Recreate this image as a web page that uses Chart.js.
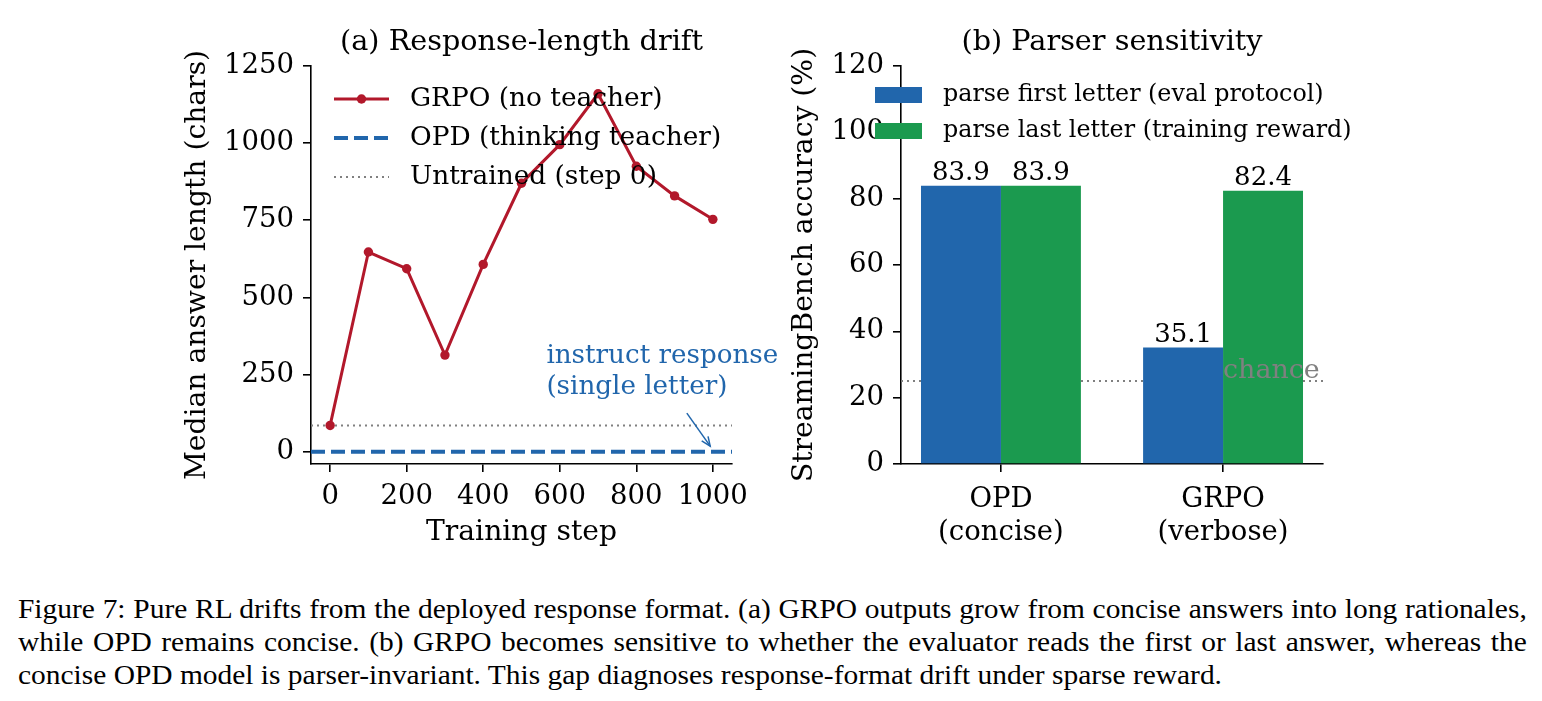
<!DOCTYPE html>
<html>
<head>
<meta charset="utf-8">
<script src="https://cdn.jsdelivr.net/npm/chart.js@4.4.1/dist/chart.umd.min.js"></script>
<style>
  html, body { margin: 0; padding: 0; background: #fff; }
  body { width: 1542px; height: 701px; position: relative; overflow: hidden; }
  #cA { position: absolute; left: 0; top: 0; }
  #cB { position: absolute; left: 784px; top: 0; }
  #caption { position: absolute; left: 18px; top: 593px; width: 1358px;
    transform: scaleX(1.111); transform-origin: 0 0;
    font-family: "Liberation Serif", "Times New Roman", serif; font-size: 26.5px; color: #000; }
  #caption div { height: 33px; line-height: 33px; white-space: nowrap; }
  #caption .j { text-align: justify; text-align-last: justify; }
</style>
</head>
<body>
<canvas id="cA" width="790" height="570"></canvas>
<canvas id="cB" width="758" height="570"></canvas>
<div id="caption">
  <div class="j">Figure 7: Pure RL drifts from the deployed response format. (a) GRPO outputs grow from concise answers into long rationales,</div>
  <div class="j">while OPD remains concise. (b) GRPO becomes sensitive to whether the evaluator reads the first or last answer, whereas the</div>
  <div>concise OPD model is parser-invariant. This gap diagnoses response-format drift under sparse reward.</div>
</div>
<script>
// ---------------- data: panel (a) ----------------
const steps = [0, 100, 200, 300, 400, 500, 600, 700, 800, 900, 1000];
const grpoLength = [85, 647, 593, 313, 607, 870, 995, 1160, 925, 829, 753];
const opdLength = 0;
const untrainedLength = 85;
const stepTicks = [0, 200, 400, 600, 800, 1000];
const lengthTicks = [0, 250, 500, 750, 1000, 1250];
const seriesLabelsA = ['GRPO (no teacher)', 'OPD (thinking teacher)', 'Untrained (step 0)'];
const annotLines = ['instruct response', '(single letter)'];
const annotTextAt = [565, 260];
const annotArrowFrom = [932, 125];
const annotArrowTo = [993, 18];

// ---------------- data: panel (b) ----------------
const barCategories = ['OPD', 'GRPO'];
const barSubLabels = ['(concise)', '(verbose)'];
const firstLetterAcc = [83.9, 35.1];
const lastLetterAcc = [83.9, 82.4];
const seriesLabelsB = ['parse first letter (eval protocol)', 'parse last letter (training reward)'];
const chanceLevel = 25;
const chanceLabelAt = [1.0, 26];
const accTicks = [0, 20, 40, 60, 80, 100, 120];

// ---------------- style ----------------
const FONT = '"DejaVu Serif", serif';
const RED = '#b2182b';
const BLUE = '#2166ac';
const GREEN = '#1b9a4f';
const GRAY = '#808080';
const tickFont = { family: FONT, size: 27.5, lineHeight: 1.2 };
const labelFont = { family: FONT, size: 28.2, lineHeight: 1.2 };
const TITLE_PX = 28.7, LEGA_PX = 26.4, LEGB_PX = 23.8, ANNOT_PX = 26.2, CHANCE_PX = 26.9, VAL_PX = 26;

function axisCommon() {
  return {
    grid: { drawOnChartArea: false, drawTicks: true, tickLength: 8, color: '#000', lineWidth: 1.6, offset: false },
    border: { display: true, color: '#000', width: 1.6 },
    ticks: { font: tickFont, color: '#000', autoSkip: false, maxRotation: 0, minRotation: 0 }
  };
}

function hline(chart, yVal, color, width, dash) {
  const { ctx, chartArea: ca, scales } = chart;
  const y = scales.y.getPixelForValue(yVal);
  ctx.save();
  ctx.strokeStyle = color; ctx.lineWidth = width; ctx.setLineDash(dash);
  ctx.beginPath(); ctx.moveTo(ca.left, y); ctx.lineTo(ca.right, y); ctx.stroke();
  ctx.restore();
}

// ---------------- panel (a) ----------------
const plugA = {
  id: 'plugA',
  beforeDatasetsDraw(chart) {
    hline(chart, untrainedLength, GRAY, 2, [2, 4]);
    hline(chart, opdLength, BLUE, 4, [14, 6]);
  },
  afterDraw(chart) {
    const { ctx, chartArea: ca, scales } = chart;
    ctx.save();
    ctx.fillStyle = '#000';
    ctx.font = TITLE_PX + 'px ' + FONT;
    ctx.textAlign = 'center'; ctx.textBaseline = 'middle';
    ctx.fillText('(a) Response-length drift', (ca.left + ca.right) / 2, ca.top - 23);
    // legend
    const rowsY = [33, 72, 111];
    const x0 = ca.left + 23, x1 = ca.left + 78;
    ctx.font = LEGA_PX + 'px ' + FONT;
    seriesLabelsA.forEach((lab, i) => {
      const y = ca.top + rowsY[i];
      ctx.save();
      ctx.beginPath();
      if (i === 0) { ctx.strokeStyle = RED; ctx.lineWidth = 3; ctx.setLineDash([]); }
      if (i === 1) { ctx.strokeStyle = BLUE; ctx.lineWidth = 4; ctx.setLineDash([14, 6]); }
      if (i === 2) { ctx.strokeStyle = GRAY; ctx.lineWidth = 2; ctx.setLineDash([2, 4]); }
      ctx.moveTo(x0, y); ctx.lineTo(x1, y); ctx.stroke();
      if (i === 0) {
        ctx.fillStyle = RED; ctx.beginPath(); ctx.arc((x0 + x1) / 2, y, 4.7, 0, Math.PI * 2); ctx.fill();
      }
      ctx.restore();
      ctx.fillStyle = '#000';
      ctx.textAlign = 'left'; ctx.textBaseline = 'middle';
      ctx.fillText(lab, ca.left + 99, y);
    });
    // annotation
    const sx = scales.x, sy = scales.y;
    ctx.fillStyle = BLUE;
    ctx.font = ANNOT_PX + 'px ' + FONT;
    ctx.textAlign = 'left'; ctx.textBaseline = 'middle';
    const tx = sx.getPixelForValue(annotTextAt[0]), ty = sy.getPixelForValue(annotTextAt[1]);
    ctx.fillText(annotLines[0], tx, ty - 15.5);
    ctx.fillText(annotLines[1], tx, ty + 15.5);
    const ax0 = sx.getPixelForValue(annotArrowFrom[0]), ay0 = sy.getPixelForValue(annotArrowFrom[1]);
    const ax1 = sx.getPixelForValue(annotArrowTo[0]), ay1 = sy.getPixelForValue(annotArrowTo[1]);
    ctx.strokeStyle = BLUE; ctx.lineWidth = 1.5; ctx.setLineDash([]);
    ctx.beginPath(); ctx.moveTo(ax0, ay0); ctx.lineTo(ax1, ay1); ctx.stroke();
    const ang = Math.atan2(ay1 - ay0, ax1 - ax0), hl = 10, ha = 0.4;
    ctx.beginPath();
    ctx.moveTo(ax1 - hl * Math.cos(ang - ha), ay1 - hl * Math.sin(ang - ha));
    ctx.lineTo(ax1, ay1);
    ctx.lineTo(ax1 - hl * Math.cos(ang + ha), ay1 - hl * Math.sin(ang + ha));
    ctx.stroke();
    ctx.restore();
  }
};

const axA = axisCommon();
const axAy = axisCommon();
new Chart(document.getElementById('cA'), {
  type: 'line',
  data: {
    datasets: [{
      label: seriesLabelsA[0],
      data: steps.map((s, i) => ({ x: s, y: grpoLength[i] })),
      borderColor: RED, backgroundColor: RED, borderWidth: 3,
      pointRadius: 4.7, pointBorderWidth: 0, pointBackgroundColor: RED, tension: 0
    }]
  },
  options: {
    responsive: false, animation: false, devicePixelRatio: 1,
    layout: { padding: { left: 177, top: 66, right: 58, bottom: 16 } },
    plugins: { legend: { display: false }, tooltip: { enabled: false } },
    scales: {
      x: Object.assign(axA, {
        type: 'linear', min: -50, max: 1050,
        afterBuildTicks: s => { s.ticks = stepTicks.map(v => ({ value: v })); },
        afterFit: s => { s.height = 90; },
        ticks: Object.assign(axA.ticks, { padding: 8, callback: v => String(v) }),
        title: { display: true, text: 'Training step', font: labelFont, color: '#000', padding: { top: 4, bottom: 4 } }
      }),
      y: Object.assign(axAy, {
        type: 'linear', min: -40, max: 1250,
        afterBuildTicks: s => { s.ticks = lengthTicks.map(v => ({ value: v })); },
        afterFit: s => { s.width = 134; },
        ticks: Object.assign(axAy.ticks, { padding: 9, callback: v => String(v) }),
        title: { display: true, text: 'Median answer length (chars)', font: labelFont, color: '#000', padding: { top: 4, bottom: 4 } }
      })
    }
  },
  plugins: [plugA]
});

// ---------------- panel (b) ----------------
const plugB = {
  id: 'plugB',
  beforeDatasetsDraw(chart) {
    hline(chart, chanceLevel, GRAY, 2, [2, 4]);
  },
  afterDatasetsDraw(chart) {
    const { ctx, scales } = chart;
    ctx.save();
    ctx.fillStyle = '#000';
    ctx.font = VAL_PX + 'px ' + FONT;
    ctx.textAlign = 'center'; ctx.textBaseline = 'alphabetic';
    chart.data.datasets.forEach((ds, di) => {
      chart.getDatasetMeta(di).data.forEach((bar, j) => {
        ctx.fillText(ds.data[j].y.toFixed(1), bar.x, bar.y - 6);
      });
    });
    ctx.fillStyle = GRAY;
    ctx.font = CHANCE_PX + 'px ' + FONT;
    ctx.textAlign = 'left'; ctx.textBaseline = 'alphabetic';
    ctx.fillText('chance', scales.x.getPixelForValue(chanceLabelAt[0]), scales.y.getPixelForValue(chanceLabelAt[1]));
    ctx.restore();
  },
  afterDraw(chart) {
    const { ctx, chartArea: ca } = chart;
    ctx.save();
    ctx.fillStyle = '#000';
    ctx.font = TITLE_PX + 'px ' + FONT;
    ctx.textAlign = 'center'; ctx.textBaseline = 'middle';
    ctx.fillText('(b) Parser sensitivity', (ca.left + ca.right) / 2, ca.top - 23);
    const rowsY = [29, 65];
    const cols = [BLUE, GREEN];
    ctx.font = LEGB_PX + 'px ' + FONT;
    seriesLabelsB.forEach((lab, i) => {
      const y = ca.top + rowsY[i];
      ctx.fillStyle = cols[i];
      ctx.fillRect(ca.left - 26, y - 8, 47, 16);
      ctx.fillStyle = '#000';
      ctx.textAlign = 'left'; ctx.textBaseline = 'middle';
      ctx.fillText(lab, ca.left + 42, y);
    });
    ctx.restore();
  }
};

const axB = axisCommon();
const axBy = axisCommon();
new Chart(document.getElementById('cB'), {
  type: 'bar',
  data: {
    datasets: [
      { label: seriesLabelsB[0], data: firstLetterAcc.map((v, i) => ({ x: i, y: v })), backgroundColor: BLUE,
        categoryPercentage: 0.72, barPercentage: 1.0, borderWidth: 0 },
      { label: seriesLabelsB[1], data: lastLetterAcc.map((v, i) => ({ x: i, y: v })), backgroundColor: GREEN,
        categoryPercentage: 0.72, barPercentage: 1.0, borderWidth: 0 }
    ]
  },
  options: {
    responsive: false, animation: false, devicePixelRatio: 1,
    layout: { padding: { left: 0, top: 66, right: 219, bottom: 16 } },
    plugins: { legend: { display: false }, tooltip: { enabled: false } },
    scales: {
      x: Object.assign(axB, {
        type: 'linear', min: -0.45, max: 1.45, offset: false,
        afterBuildTicks: s => { s.ticks = barCategories.map((c, i) => ({ value: i })); },
        afterFit: s => { s.height = 90; },
        ticks: Object.assign(axB.ticks, { padding: 11, callback: v => [barCategories[v], barSubLabels[v]] })
      }),
      y: Object.assign(axBy, {
        type: 'linear', min: 0, max: 120,
        afterBuildTicks: s => { s.ticks = accTicks.map(v => ({ value: v })); },
        afterFit: s => { s.width = 117; },
        ticks: Object.assign(axBy.ticks, { padding: 9, callback: v => String(v) }),
        title: { display: true, text: 'StreamingBench accuracy (%)', font: labelFont, color: '#000', padding: { top: 4, bottom: 4 } }
      })
    }
  },
  plugins: [plugB]
});
</script>
</body>
</html>
